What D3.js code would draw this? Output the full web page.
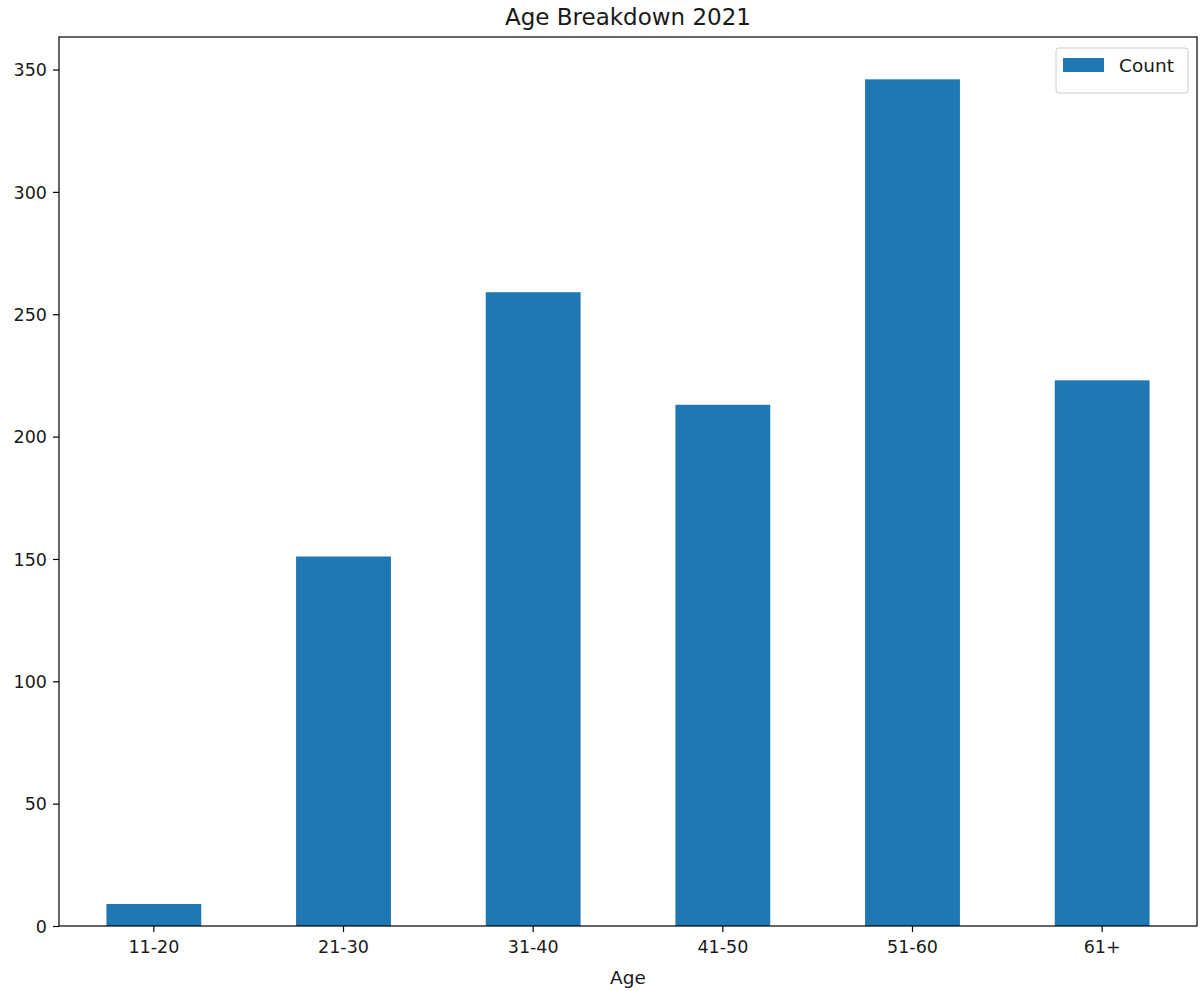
<!DOCTYPE html>
<html>
<head>
<meta charset="utf-8">
<script src="https://cdn.jsdelivr.net/npm/d3@7"></script>
<style>
  html, body { margin: 0; padding: 0; background: #fff; }
  svg { display: block; }
  text { font-family: "DejaVu Sans", sans-serif; fill: #1a1a1a; }
</style>
</head>
<body>
<svg id="chart" width="1201" height="991"></svg>
<script>
// Age groups and head counts for 2021
const categories = ["11-20", "21-30", "31-40", "41-50", "51-60", "61+"];
const counts = [9, 151, 259, 213, 346, 223];
const yTicks = [0, 50, 100, 150, 200, 250, 300, 350];
const seriesName = "Count";
const titleText = "Age Breakdown 2021";
const xLabelText = "Age";

const W = 1201, H = 991;
const margin = { top: 37, right: 4, bottom: 65, left: 59 };
const innerW = W - margin.left - margin.right;
const innerH = H - margin.top - margin.bottom;
const barColor = "#1f77b4";

const svg = d3.select("#chart");
const g = svg.append("g").attr("transform", `translate(${margin.left},${margin.top})`);

const x = d3.scaleBand()
  .domain(categories)
  .range([0, innerW])
  .paddingInner(0.5)
  .paddingOuter(0.25);

const yMax = d3.max(counts) * 1.05;
const y = d3.scaleLinear().domain([0, yMax]).range([innerH, 0]);

// bars
g.selectAll("rect.bar")
  .data(counts)
  .join("rect")
  .attr("class", "bar")
  .attr("x", (d, i) => x(categories[i]))
  .attr("y", d => y(d))
  .attr("width", x.bandwidth())
  .attr("height", d => innerH - y(d))
  .attr("fill", barColor);

// axes
const xAxis = g.append("g")
  .attr("transform", `translate(0,${innerH})`)
  .call(d3.axisBottom(x).tickSize(6).tickPadding(5));
const yAxis = g.append("g")
  .call(d3.axisLeft(y).tickValues(yTicks).tickSize(6).tickPadding(6));

[xAxis, yAxis].forEach(ax => {
  ax.select(".domain").remove();
  ax.selectAll(".tick line").attr("stroke", "#000").attr("stroke-width", 1.2);
  ax.selectAll(".tick text").attr("font-size", 17.5).attr("fill", "#1a1a1a")
    .attr("font-family", "DejaVu Sans, sans-serif");
});
xAxis.selectAll(".tick text").attr("dy", "0.9em");
yAxis.selectAll(".tick text").attr("dy", "0.35em");

// frame
g.append("rect")
  .attr("x", 0).attr("y", 0)
  .attr("width", innerW).attr("height", innerH)
  .attr("fill", "none")
  .attr("stroke", "#000")
  .attr("stroke-width", 1.2);

// title
svg.append("text")
  .attr("x", margin.left + innerW / 2)
  .attr("y", 25)
  .attr("text-anchor", "middle")
  .attr("font-size", 23)
  .text(titleText);

// x axis label
svg.append("text")
  .attr("x", margin.left + innerW / 2)
  .attr("y", 984)
  .attr("text-anchor", "middle")
  .attr("font-size", 18.5)
  .text(xLabelText);

// legend
const lg = g.append("g").attr("transform", `translate(${innerW - 9 - 132},${11})`);
lg.append("rect")
  .attr("width", 132).attr("height", 45)
  .attr("rx", 3).attr("ry", 3)
  .attr("fill", "#fff").attr("fill-opacity", 0.8)
  .attr("stroke", "#ccc");
lg.append("rect")
  .attr("x", 7).attr("y", 10)
  .attr("width", 41).attr("height", 14)
  .attr("fill", barColor);
lg.append("text")
  .attr("x", 63).attr("y", 24)
  .attr("font-size", 18.5)
  .text(seriesName);
</script>
</body>
</html>
